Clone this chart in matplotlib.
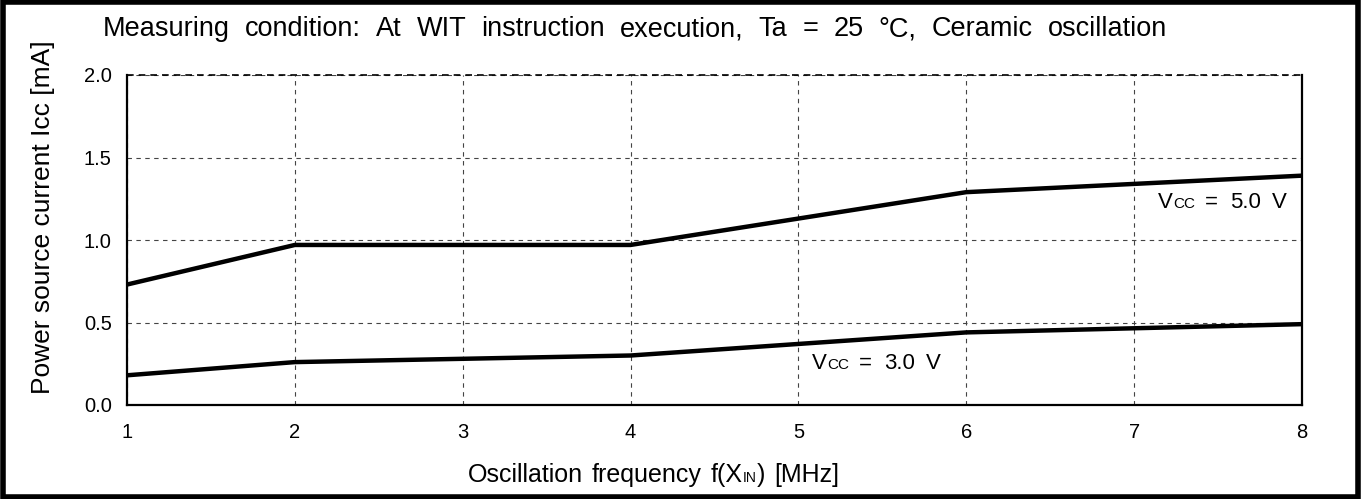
import matplotlib.pyplot as plt
from matplotlib.patches import Rectangle
from matplotlib.transforms import IdentityTransform

plt.rcParams['font.family'] = ['Liberation Sans', 'DejaVu Sans']

# Icc vs f(XIN) during WIT
freq = [1, 2, 4, 6, 8]
icc_5v = [0.73, 0.97, 0.97, 1.29, 1.39]
icc_3v = [0.18, 0.26, 0.30, 0.44, 0.49]

xticks = [1, 2, 3, 4, 5, 6, 7, 8]
yticks = [0.0, 0.5, 1.0, 1.5, 2.0]

W, H = 1362, 499
fig = plt.figure(figsize=(W / 100, H / 100), dpi=100)
renderer = fig.canvas.get_renderer()


def runs_text(x, y, runs, gap=0):
    """Write text pieces left to right on one baseline, x/y in pixels from top-left.
    runs: (string, fontsize, extra space before it in px)."""
    cx = x
    for s, size, before in runs:
        cx += before
        t = fig.text(cx, H - y, s, fontsize=size, ha='left', va='baseline',
                     transform=IdentityTransform())
        cx += t.get_window_extent(renderer).width + gap


ax = fig.add_axes([127 / W, 1 - 405 / H, (1302 - 127) / W, (405 - 75) / H])

ax.plot(freq, icc_5v, color='black', lw=3.2, solid_joinstyle='miter')
ax.plot(freq, icc_3v, color='black', lw=3.2, solid_joinstyle='miter')

ax.set_xlim(1, 8)
ax.set_ylim(0, 2)
ax.set_xticks(xticks)
ax.set_yticks(yticks)
ax.set_yticklabels(['%.1f' % v for v in yticks])
ax.tick_params(length=0, labelsize=14.5)
ax.tick_params(axis='x', pad=13)
ax.tick_params(axis='y', pad=11)
ax.grid(True, color='#444444', ls=(0, (4, 4)), lw=0.8)

for s in ['left', 'bottom', 'right']:
    ax.spines[s].set_linewidth(1.6)
ax.spines['top'].set_visible(False)
ax.axhline(2.0, color='black', ls=(0, (4, 3)), lw=1.2, clip_on=False)

# title line
title_words = ['Measuring', 'condition:', 'At', 'WIT', 'instruction', 'execution,',
               'Ta', '=', '25', '\u00b0C,', 'Ceramic', 'oscillation']
runs_text(103, 36, [(w, 19.5, 0 if i == 0 else 15) for i, w in enumerate(title_words)])

# axis labels
fig.text(43 / W, 1 - 217 / H, 'Power source current Icc [mA]', fontsize=19,
         rotation=90, ha='center', va='center')
runs_text(468, 482, [('Oscillation', 18, 0), ('frequency', 18, 9), ('f(X', 18, 9),
                     ('IN', 10, 0), (')', 18, 0), ('[MHz]', 18, 9)])

# curve labels
runs_text(1158, 208, [('V', 16, 0), ('CC', 11, 0), ('=', 16, 10), ('5.0', 16, 12), ('V', 16, 11)])
runs_text(812, 369, [('V', 16, 0), ('CC', 11, 0), ('=', 16, 10), ('3.0', 16, 12), ('V', 16, 11)])

fig.patches.append(Rectangle((0.002, 0.004), 0.995, 0.991, transform=fig.transFigure,
                             fill=False, edgecolor='black', lw=4))

fig.savefig('out.png', dpi=100)
